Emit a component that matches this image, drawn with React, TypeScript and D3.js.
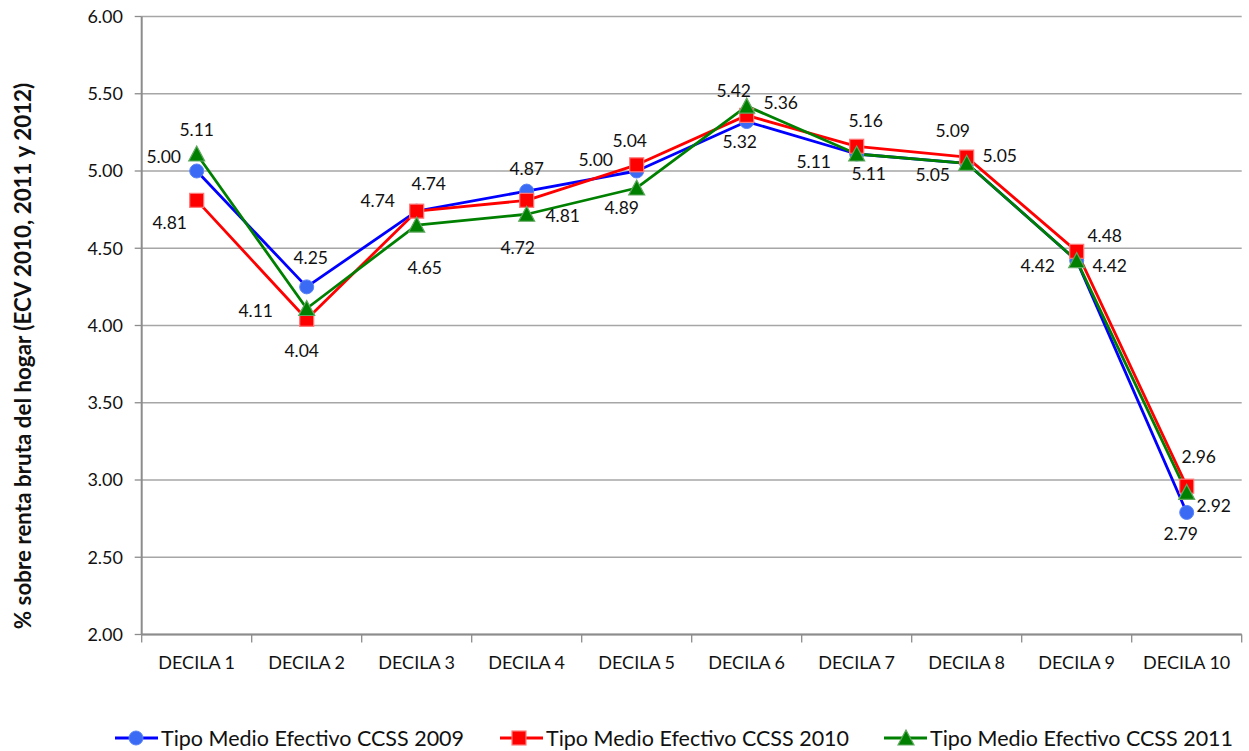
import React from "react";
import * as d3 from "d3";

const categories = ["DECILA 1","DECILA 2","DECILA 3","DECILA 4","DECILA 5","DECILA 6","DECILA 7","DECILA 8","DECILA 9","DECILA 10"];
const yTicks = [2.0, 2.5, 3.0, 3.5, 4.0, 4.5, 5.0, 5.5, 6.0];
const s2009 = [5.00, 4.25, 4.74, 4.87, 5.00, 5.32, 5.11, 5.05, 4.42, 2.79];
const s2010 = [4.81, 4.04, 4.74, 4.81, 5.04, 5.36, 5.16, 5.09, 4.48, 2.96];
const s2011 = [5.11, 4.11, 4.65, 4.72, 4.89, 5.42, 5.11, 5.05, 4.42, 2.92];
const seriesNames = ["Tipo Medio Efectivo CCSS 2009","Tipo Medio Efectivo CCSS 2010","Tipo Medio Efectivo CCSS 2011"];

// label placement offsets (px) relative to each point
const off2009 = [[-33,-14],[4,-29],[-39,-10],[0,-22],[-41,-11],[-7,20],[-43,8],[-34,12],[-39,5],[-6,21]];
const off2010 = [[-27,23],[-5,32],[12,-27],[36,16],[-7,-24],[34,-13],[9,-25],[-14,-26],[28,-15],[12,-29]];
const off2011 = [[0,-24],[-51,2],[8,43],[-9,34],[-15,20],[-13,-15],[12,20],[33,-7],[33,5],[27,14]];

const W = 1249, H = 751;
const FONT = "Lato, 'Open Sans', sans-serif";

const series = [
  { name: seriesNames[0], values: s2009, off: off2009, line: "#0000FF", fill: "#3B6BF5", stroke: "#5a84f7", shape: "circle" },
  { name: seriesNames[1], values: s2010, off: off2010, line: "#FF0000", fill: "#FF0000", stroke: "#FF7878", shape: "square" },
  { name: seriesNames[2], values: s2011, off: off2011, line: "#008000", fill: "#008000", stroke: "#5FA85F", shape: "triangle" },
];

function Marker({ shape, x, y, fill, stroke, size }: any) {
  if (shape === "circle") return <circle cx={x} cy={y} r={size / 2} fill={fill} stroke={stroke} strokeWidth={1} />;
  if (shape === "square") return <rect x={x - size / 2} y={y - size / 2} width={size} height={size} fill={fill} stroke={stroke} strokeWidth={1.2} />;
  const h = size;
  const p = `${x},${y - h / 2 - 1} ${x + h / 2 + 1},${y + h / 2} ${x - h / 2 - 1},${y + h / 2}`;
  return <polygon points={p} fill={fill} stroke={stroke} strokeWidth={1.2} />;
}

export default function App() {
  const left = 141.7, right = 1241.7, top = 16.5, bottom = 634.5;
  const x = d3.scaleBand<string>().domain(categories).range([left, right]).padding(0);
  const y = d3.scaleLinear().domain([2, 6]).range([bottom, top]);
  const cx = (c: string) => (x(c) as number) + x.bandwidth() / 2;
  const line = d3.line<number>().x((_, i) => cx(categories[i])).y((v) => y(v));
  const bounds = [...categories.map((c) => x(c) as number), right];

  return (
    <svg width={W} height={H} style={{ position: "absolute", left: 0, top: 0, background: "#fff" }} fontFamily={FONT}>
      {yTicks.map((t) => (
        <g key={t}>
          <line x1={left} x2={right} y1={y(t)} y2={y(t)} stroke="#A6A6A6" strokeWidth={1.3} />
          <line x1={left - 7} x2={left} y1={y(t)} y2={y(t)} stroke="#8C8C8C" strokeWidth={1.3} />
          <text x={123} y={y(t)} dy="0.35em" textAnchor="end" fontSize={18} fill="#111">{t.toFixed(2)}</text>
        </g>
      ))}
      <line x1={left} x2={left} y1={top} y2={bottom} stroke="#8C8C8C" strokeWidth={2} />
      <line x1={left} x2={right} y1={bottom} y2={bottom} stroke="#8C8C8C" strokeWidth={2} />
      {bounds.map((b, i) => (
        <line key={i} x1={b} x2={b} y1={bottom} y2={bottom + 8} stroke="#8C8C8C" strokeWidth={1.3} />
      ))}
      {categories.map((c) => (
        <text key={c} x={cx(c)} y={663} dy="0.35em" textAnchor="middle" fontSize={18} fill="#111">{c}</text>
      ))}
      <text transform={`translate(23,${356}) rotate(-90)`} textAnchor="middle" dy="0.35em" fontSize={22.4} fontWeight="bold" fill="#111">
        % sobre renta bruta del hogar (ECV 2010, 2011 y 2012)
      </text>

      {series.map((s) => (
        <path key={s.name} d={line(s.values) as string} fill="none" stroke={s.line} strokeWidth={2.8} strokeLinejoin="round" />
      ))}
      {series.map((s) => (
        <g key={s.name + "m"}>
          {s.values.map((v, i) => (
            <Marker key={i} shape={s.shape} x={cx(categories[i])} y={y(v)} fill={s.fill} stroke={s.stroke} size={14} />
          ))}
        </g>
      ))}
      {series.map((s) => (
        <g key={s.name + "l"}>
          {s.values.map((v, i) => (
            <text key={i} x={cx(categories[i]) + s.off[i][0]} y={y(v) + s.off[i][1]} dy="0.35em" textAnchor="middle" fontSize={17.5} fill="#111">
              {v.toFixed(2)}
            </text>
          ))}
        </g>
      ))}

      {series.map((s, i) => {
        const lx = [115, 500, 884][i];
        const mx = [136, 519, 906][i];
        const tx = [161, 546, 930][i];
        return (
          <g key={s.name + "lg"}>
            <line x1={lx} x2={tx - 3} y1={738} y2={738} stroke={s.line} strokeWidth={2.8} />
            <Marker shape={s.shape} x={mx} y={738} fill={s.fill} stroke={s.stroke} size={14} />
            <text x={tx} y={738} dy="0.35em" fontSize={21.5} fill="#111">{s.name}</text>
          </g>
        );
      })}
    </svg>
  );
}
